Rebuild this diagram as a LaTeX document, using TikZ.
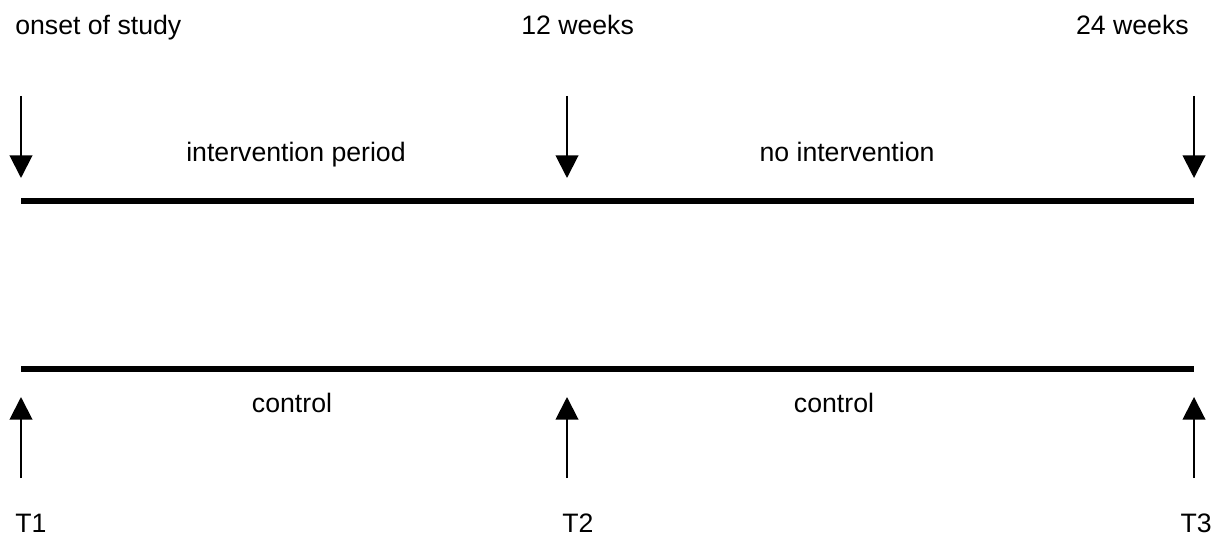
\documentclass[tikz,border=0pt]{standalone}
\usepackage{fontspec}
\setmainfont{Liberation Sans}
\usetikzlibrary{arrows.meta,positioning}

\begin{document}
\begin{tikzpicture}[x=0.75pt,y=-0.75pt,
    lbl/.style={inner sep=0pt,font=\fontsize{20}{24}\selectfont},
    arr/.style={line width=1.5pt,-{Triangle[length=17pt,width=17pt]}},
    bar/.style={line width=4.5pt}]
  \useasboundingbox (0,0) rectangle (1223,538);
  % time lines
  \coordinate (s1) at (21,201);
  \coordinate (e1) at (1194,201);
  \coordinate (s2) at (21,369);
  \coordinate (e2) at (1194,369);
  \draw[bar] (s1) -- (e1);
  \draw[bar] (s2) -- (e2);
  % arrows
  \coordinate (d1) at (21,96);   \coordinate (dt1) at (21,178);
  \coordinate (d2) at (567,96);  \coordinate (dt2) at (567,178);
  \coordinate (d3) at (1194,96); \coordinate (dt3) at (1194,178);
  \coordinate (u1) at (21,478);   \coordinate (ut1) at (21,397);
  \coordinate (u2) at (567,478);  \coordinate (ut2) at (567,397);
  \coordinate (u3) at (1194,478); \coordinate (ut3) at (1194,397);
  \draw[arr] (d1) -- (dt1);
  \draw[arr] (d2) -- (dt2);
  \draw[arr] (d3) -- (dt3);
  \draw[arr] (u1) -- (ut1);
  \draw[arr] (u2) -- (ut2);
  \draw[arr] (u3) -- (ut3);
  % labels
  \node[lbl,anchor=base west](onset) at (15,35){onset of study};
  \node[lbl,anchor=base west](wk12) at (521,35){12 weeks};
  \node[lbl,anchor=base east](wk24) at (1189,35){24 weeks};
  \node[lbl,anchor=base](intper) at (296,162){intervention period};
  \node[lbl,anchor=base](noint) at (847,162){no intervention};
  \node[lbl,anchor=base](ctrl1) at (292,412){control};
  \node[lbl,anchor=base](ctrl2) at (834,412){control};
  \node[lbl,anchor=base west](t1) at (15,532){T1};
  \node[lbl,anchor=base west](t2) at (562,532){T2};
  \node[lbl,anchor=base east](t3) at (1212,532){T3};
\end{tikzpicture}
\end{document}
